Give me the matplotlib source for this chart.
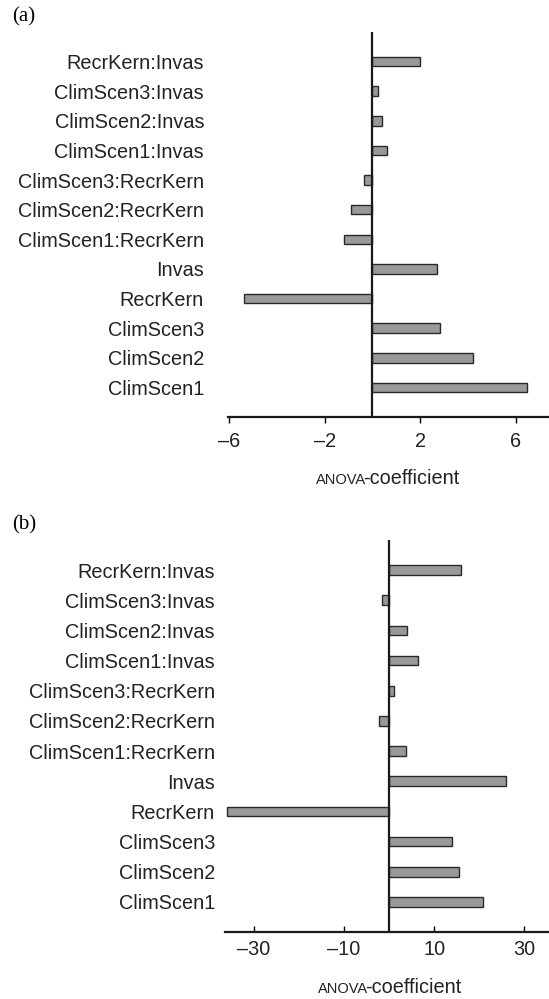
import numpy as np
import matplotlib
matplotlib.use('Agg')
import matplotlib.pyplot as plt

# terms, bottom to top
terms = ['ClimScen1', 'ClimScen2', 'ClimScen3', 'RecrKern', 'Invas',
         'ClimScen1:RecrKern', 'ClimScen2:RecrKern', 'ClimScen3:RecrKern',
         'ClimScen1:Invas', 'ClimScen2:Invas', 'ClimScen3:Invas', 'RecrKern:Invas']

coef_a = [6.47, 4.2, 2.85, -5.4, 2.7, -1.2, -0.9, -0.35, 0.6, 0.4, 0.25, 2.0]
coef_b = [20.8, 15.6, 14.0, -36.0, 26.0, 3.7, -2.2, 1.1, 6.4, 3.9, -1.6, 15.9]

ticks_a = [-6, -2, 2, 6]
ticks_b = [-30, -10, 10, 30]

plt.rcParams['font.family'] = 'Liberation Sans'

W, H = 549, 999
fig = plt.figure(figsize=(W/100, H/100), dpi=100)
renderer = fig.canvas.get_renderer()


def xlabel_smallcaps(x0, ybase):
    '''ANOVA in small caps followed by -coefficient'''
    t1 = fig.text(x0/W, 1 - ybase/H, 'ANOVA', fontsize=10.5, ha='left', va='baseline', color='#222222')
    bb = t1.get_window_extent(renderer)
    fig.text((bb.x1 - 2.5)/W, 1 - ybase/H, '-coefficient', fontsize=14.3, ha='left', va='baseline', color='#222222')


def panel(rect, vals, ticks, xlim, pad, tickdir, letter, letter_y, lab_y, lab_x):
    ax = fig.add_axes(rect)
    y = np.arange(len(terms))
    ax.barh(y, vals, height=0.32, color='#999999', edgecolor='#2a2a2a', linewidth=1.0, zorder=2)
    ax.axvline(0, color='#1a1a1a', lw=1.6, zorder=3)
    ax.set_xlim(xlim)
    ax.set_ylim(-1, 12)
    for s in ['top', 'right', 'left']:
        ax.spines[s].set_visible(False)
    ax.spines['bottom'].set_linewidth(1.6)
    ax.spines['bottom'].set_color('#1a1a1a')
    ax.set_yticks(y)
    ax.set_yticklabels(terms, fontsize=14.3, color='#222222')
    ax.tick_params(axis='y', length=0, pad=pad)
    ax.set_xticks(ticks)
    ax.set_xticklabels([str(t).replace('-', '\u2013') for t in ticks], fontsize=14.3, color='#222222')
    ax.tick_params(axis='x', direction=tickdir, length=4, width=1.0, pad=7 if tickdir == 'out' else 6)
    fig.text(12/W, 1 - letter_y/H, letter, family='Liberation Serif', fontsize=15, va='center', ha='left')
    xlabel_smallcaps(lab_x, lab_y)
    return ax


# pads in points (px * 0.72)
panel([228/W, 1 - 417/H, 1 - 228/W, (417 - 32)/H], coef_a, ticks_a, (-6.05, 7.4), 24*0.72,
      'out', '(a)', 17, 484, 316)
panel([225/W, 1 - 932/H, 1 - 225/W, (932 - 540)/H], coef_b, ticks_b, (-36.4, 35.5), 10*0.72,
      'in', '(b)', 525, 993, 318)

fig.savefig('out.png', dpi=100)
